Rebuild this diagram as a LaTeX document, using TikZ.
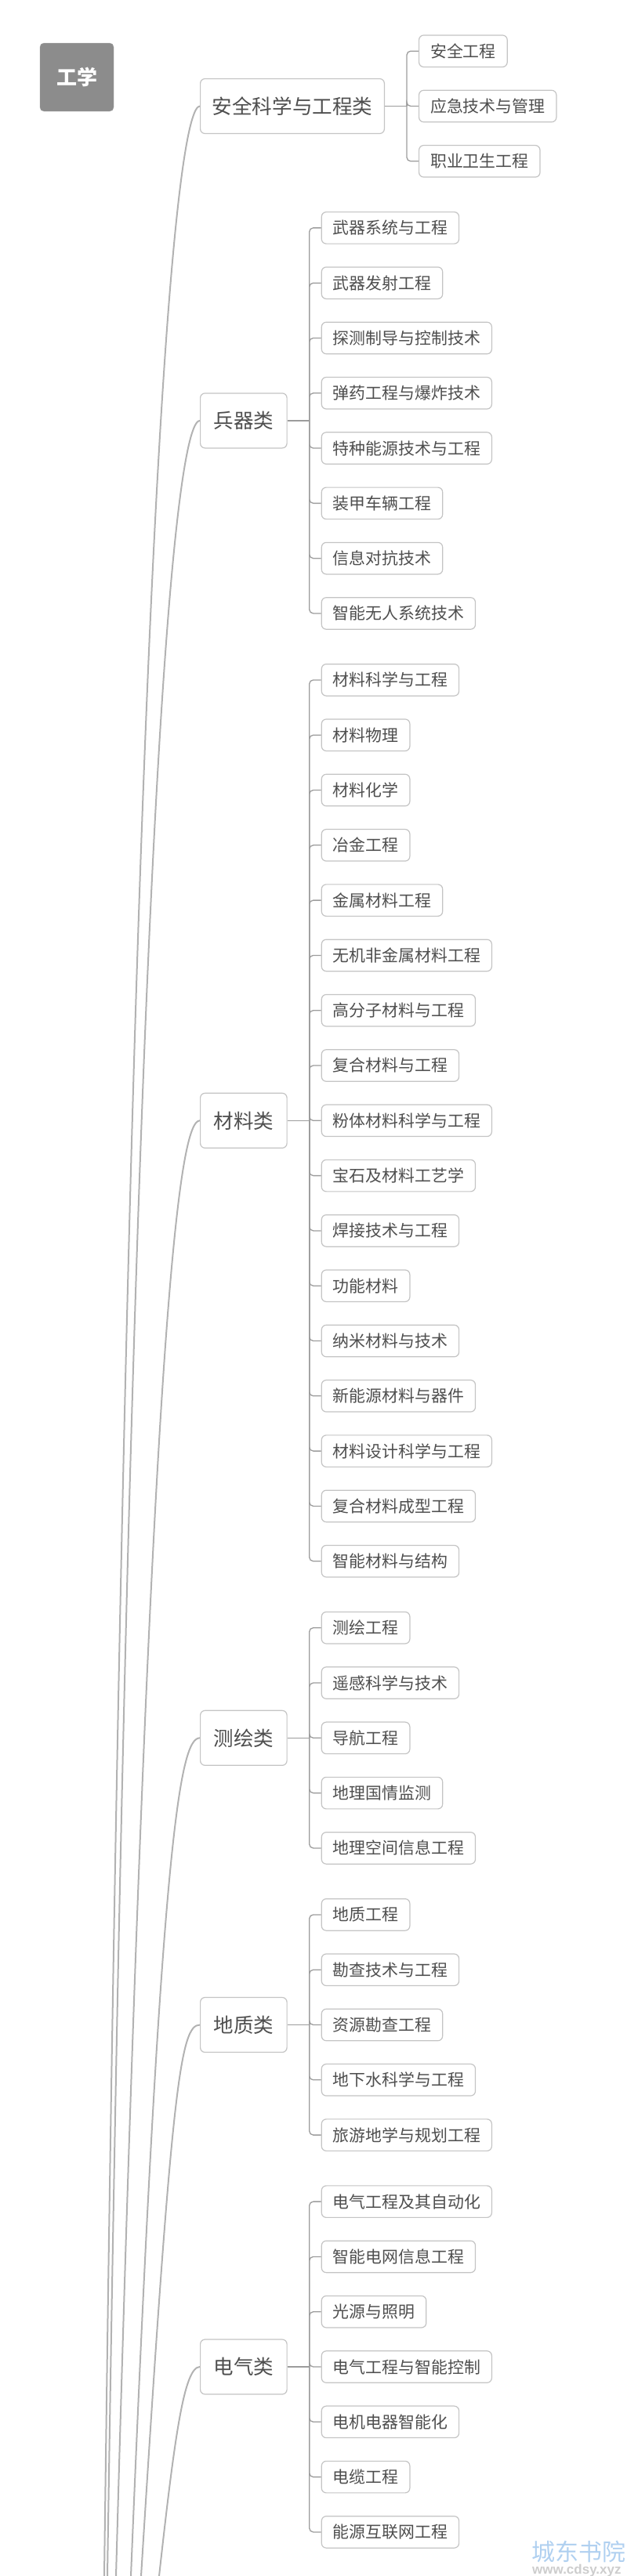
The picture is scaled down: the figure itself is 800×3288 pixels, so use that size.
\documentclass[tikz,border=0pt]{standalone}
\usepackage{fontspec}
\newfontfamily\cjk{Noto Sans CJK SC}
\setsansfont{Liberation Sans}
\usetikzlibrary{positioning,calc}

\definecolor{rootgray}{HTML}{8C8C8C}
\definecolor{boxline}{HTML}{C4C4C4}
\definecolor{wire}{HTML}{9C9C9C}
\definecolor{limbgray}{HTML}{B2B2B2}
\definecolor{labeltext}{HTML}{4E4E4E}
\definecolor{markblue}{HTML}{B0D0F0}
\definecolor{markgray}{HTML}{CDCDCD}

\tikzset{
  rootbox/.style={fill=rootgray, draw=rootgray!80, rounded corners=5pt, minimum width=94pt, minimum height=87pt, inner sep=0pt, text=white, font=\cjk\bfseries\fontsize{26pt}{30pt}\selectfont},
  catbox/.style={draw=boxline, line width=1.2pt, fill=white, rounded corners=6pt, anchor=west, minimum height=70pt, inner xsep=17pt, inner ysep=0pt, text=labeltext, font=\cjk\fontsize{25.5pt}{30pt}\selectfont},
  itembox/.style={draw=boxline, line width=1.2pt, fill=white, rounded corners=6pt, anchor=west, minimum height=40.5pt, inner xsep=14.5pt, inner ysep=0pt, text=labeltext, font=\cjk\fontsize{20.9pt}{24pt}\selectfont},
  branch/.style={draw=wire, line width=1.3pt, rounded corners=5pt},
  limb/.style={draw=limbgray, line width=2pt},
}

\begin{document}
\begin{tikzpicture}[x=1pt, y=-1pt]
	\useasboundingbox (0,0) rectangle (800,3288);
	\clip (0,0) rectangle (800,3288);
	
	% Root
	\node[rootbox] (gongxue) at (98,98.5) {工学};
	
	% Categories
	\node[catbox, inner xsep=15pt, font=\cjk\fontsize{25.6pt}{30pt}\selectfont] (anquan) at (255,135.5) {安全科学与工程类};
	\node[catbox] (bingqi) at (255,536.9) {兵器类};
	\node[catbox] (cailiao) at (255,1430.3) {材料类};
	\node[catbox] (cehui) at (255,2218.3) {测绘类};
	\node[catbox] (dizhi) at (255,2584.5) {地质类};
	\node[catbox] (dianqi) at (255,3021) {电气类};
	
	% Curves down to the (hidden) root
	\coordinate (anquan-end) at (133,3288);
	\coordinate (bingqi-end) at (137,3288);
	\coordinate (cailiao-end) at (148,3288);
	\coordinate (cehui-end) at (167,3288);
	\coordinate (dizhi-end) at (180,3288);
	\coordinate (dianqi-end) at (203,3288);
	\draw[limb] (anquan.west) .. controls +(-25,0) and +(36,-2800) .. (anquan-end);
	\draw[limb] (bingqi.west) .. controls +(-25,0) and +(37,-2440) .. (bingqi-end);
	\draw[limb] (cailiao.west) .. controls +(-25,0) and +(46,-1650) .. (cailiao-end);
	\draw[limb] (cehui.west) .. controls +(-25,0) and +(39,-950) .. (cehui-end);
	\draw[limb] (dizhi.west) .. controls +(-25,0) and +(39,-625) .. (dizhi-end);
	\draw[limb] (dianqi.west) .. controls +(-20,0) and +(20,-180) .. (dianqi-end);
	
	% Safety
	\draw[branch] (anquan.east) -- ++(28,0) coordinate (anquan-j);
	\foreach \t [count=\i] in {安全工程,应急技术与管理,职业卫生工程} {
		\node[itembox] (anquan-\i) at ($(anquan-j)+(15,{(\i-2)*70.3})$) {\t};
		\draw[branch] (anquan-j) |- (anquan-\i.west);
	}
	
	% Weapons
	\draw[branch] (bingqi.east) -- ++(28,0) coordinate (bingqi-j);
	\foreach \t [count=\i] in {武器系统与工程,武器发射工程,探测制导与控制技术,弹药工程与爆炸技术,特种能源技术与工程,装甲车辆工程,信息对抗技术,智能无人系统技术} {
		\node[itembox] (bingqi-\i) at ($(bingqi-j)+(15,{(\i-4.5)*70.3})$) {\t};
		\draw[branch] (bingqi-j) |- (bingqi-\i.west);
	}
	
	% Materials
	\draw[branch] (cailiao.east) -- ++(28,0) coordinate (cailiao-j);
	\foreach \t [count=\i] in {材料科学与工程,材料物理,材料化学,冶金工程,金属材料工程,无机非金属材料工程,高分子材料与工程,复合材料与工程,粉体材料科学与工程,宝石及材料工艺学,焊接技术与工程,功能材料,纳米材料与技术,新能源材料与器件,材料设计科学与工程,复合材料成型工程,智能材料与结构} {
		\node[itembox] (cailiao-\i) at ($(cailiao-j)+(15,{(\i-9)*70.3})$) {\t};
		\draw[branch] (cailiao-j) |- (cailiao-\i.west);
	}
	
	% Surveying
	\draw[branch] (cehui.east) -- ++(28,0) coordinate (cehui-j);
	\foreach \t [count=\i] in {测绘工程,遥感科学与技术,导航工程,地理国情监测,地理空间信息工程} {
		\node[itembox] (cehui-\i) at ($(cehui-j)+(15,{(\i-3)*70.3})$) {\t};
		\draw[branch] (cehui-j) |- (cehui-\i.west);
	}
	
	% Geology
	\draw[branch] (dizhi.east) -- ++(28,0) coordinate (dizhi-j);
	\foreach \t [count=\i] in {地质工程,勘查技术与工程,资源勘查工程,地下水科学与工程,旅游地学与规划工程} {
		\node[itembox] (dizhi-\i) at ($(dizhi-j)+(15,{(\i-3)*70.3})$) {\t};
		\draw[branch] (dizhi-j) |- (dizhi-\i.west);
	}
	
	% Electrical
	\draw[branch] (dianqi.east) -- ++(28,0) coordinate (dianqi-j);
	\foreach \t [count=\i] in {电气工程及其自动化,智能电网信息工程,光源与照明,电气工程与智能控制,电机电器智能化,电缆工程,能源互联网工程} {
		\node[itembox] (dianqi-\i) at ($(dianqi-j)+(15,{(\i-4)*70.3})$) {\t};
		\draw[branch] (dianqi-j) |- (dianqi-\i.west);
	}
	
	% Watermark
	\node[anchor=west, inner sep=0pt, text=markblue, font=\cjk\fontsize{30pt}{32pt}\selectfont] (mark) at (678,3257) {城东书院};
	\node[anchor=north west, inner sep=0pt, text=markgray, font=\sffamily\bfseries\fontsize{17pt}{18pt}\selectfont] (markurl) at (679,3273) {www.cdsy.xyz};
\end{tikzpicture}
\end{document}
